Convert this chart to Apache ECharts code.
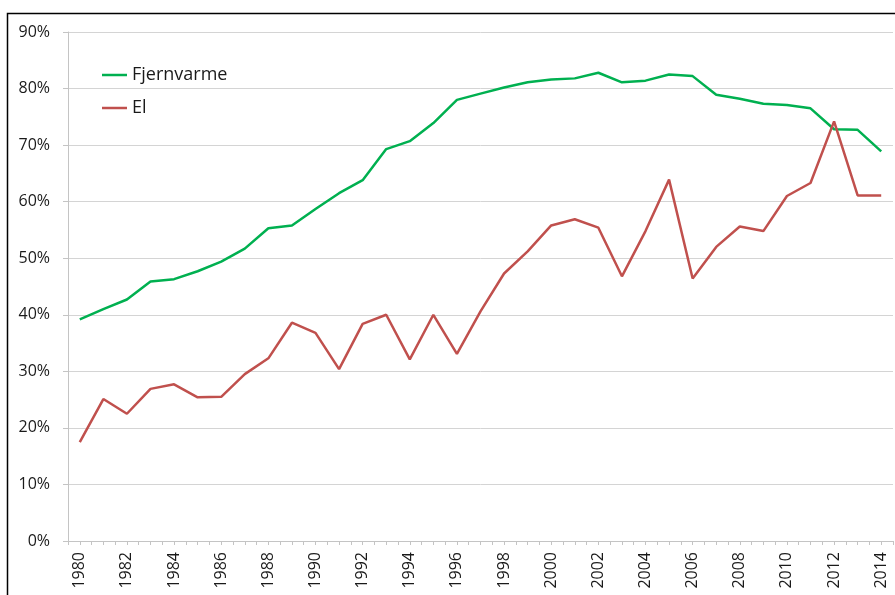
<!DOCTYPE html>
<html>
<head>
<meta charset="utf-8">
<script src="https://cdn.jsdelivr.net/npm/echarts@6/dist/echarts.min.js"></script>
<style>
  html, body { margin: 0; padding: 0; background: #fff; }
  #container { width: 895px; height: 595px; }
</style>
</head>
<body>
<div id="container"></div>
<script>
const years = ['1980', '1981', '1982', '1983', '1984', '1985', '1986', '1987', '1988', '1989',
    '1990', '1991', '1992', '1993', '1994', '1995', '1996', '1997', '1998', '1999',
    '2000', '2001', '2002', '2003', '2004', '2005', '2006', '2007', '2008', '2009',
    '2010', '2011', '2012', '2013', '2014'];

// andel i procent
const fjernvarme = [39.2, 41.0, 42.7, 45.9, 46.3, 47.7, 49.4, 51.7, 55.3, 55.8,
    58.7, 61.5, 63.8, 69.3, 70.7, 73.9, 78.0, 79.1, 80.2, 81.1,
    81.6, 81.8, 82.8, 81.1, 81.4, 82.5, 82.2, 78.9, 78.2, 77.3,
    77.1, 76.5, 72.8, 72.7, 68.9];

const el = [17.5, 25.1, 22.5, 26.9, 27.7, 25.4, 25.5, 29.5, 32.3, 38.6,
    36.8, 30.4, 38.4, 40.0, 32.1, 40.0, 33.1, 40.6, 47.3, 51.2,
    55.8, 56.9, 55.4, 46.8, 54.8, 63.9, 46.4, 52.0, 55.6, 54.8,
    61.0, 63.3, 74.2, 61.1, 61.1];

const myChart = echarts.init(document.getElementById('container'));

const labelFont = 'Open Sans';
const gridColor = '#d4d4d4';

const option = {
    animation: false,
    backgroundColor: '#fff',
    textStyle: { fontFamily: labelFont },
    graphic: [
        {
            type: 'polyline',
            shape: { points: [[7.5, 595], [7.5, 13.5], [895, 13.5]] },
            style: { stroke: '#000', lineWidth: 1.5, fill: null }
        }
    ],
    legend: {
        orient: 'vertical',
        left: 97,
        top: 61,
        itemWidth: 25,
        itemHeight: 2.5,
        itemGap: 15,
        icon: 'rect',
        textStyle: { fontSize: 18, color: '#1a1a1a', fontFamily: labelFont },
        data: ['Fjernvarme', 'El']
    },
    grid: { left: 68, right: 2, top: 32, bottom: 54 },
    xAxis: [
        {
            type: 'category',
            data: years,
            boundaryGap: true,
            axisLine: { lineStyle: { color: '#c4c4c4', width: 1 } },
            axisTick: { show: true, interval: 0, length: 4, lineStyle: { color: '#c4c4c4' } },
            axisLabel: {
                interval: 1,
                rotate: 90,
                margin: 11,
                fontSize: 16,
                color: '#1a1a1a',
                fontFamily: labelFont
            }
        },
        {
            type: 'category',
            data: years,
            position: 'bottom',
            boundaryGap: true,
            axisLine: { show: false },
            axisTick: { show: true, interval: 0, alignWithLabel: true, length: 4, lineStyle: { color: '#c4c4c4' } },
            axisLabel: { show: false }
        }
    ],
    yAxis: {
        type: 'value',
        min: 0,
        max: 90,
        interval: 10,
        axisLine: { show: true, lineStyle: { color: '#c4c4c4' } },
        axisTick: { show: true, length: 5, lineStyle: { color: '#c4c4c4' } },
        splitLine: { lineStyle: { color: gridColor, width: 1 } },
        axisLabel: {
            formatter: '{value}%',
            margin: 18,
            fontSize: 16,
            color: '#1a1a1a',
            fontFamily: labelFont
        }
    },
    series: [
        {
            name: 'Fjernvarme',
            type: 'line',
            data: fjernvarme,
            symbol: 'none',
            color: '#00B050',
            lineStyle: { width: 2.5 }
        },
        {
            name: 'El',
            type: 'line',
            data: el,
            symbol: 'none',
            color: '#C0504D',
            lineStyle: { width: 2.5 }
        }
    ]
};
myChart.setOption(option);
window.addEventListener('resize', () => {
    myChart.resize()
})
</script>
</body>
</html>
